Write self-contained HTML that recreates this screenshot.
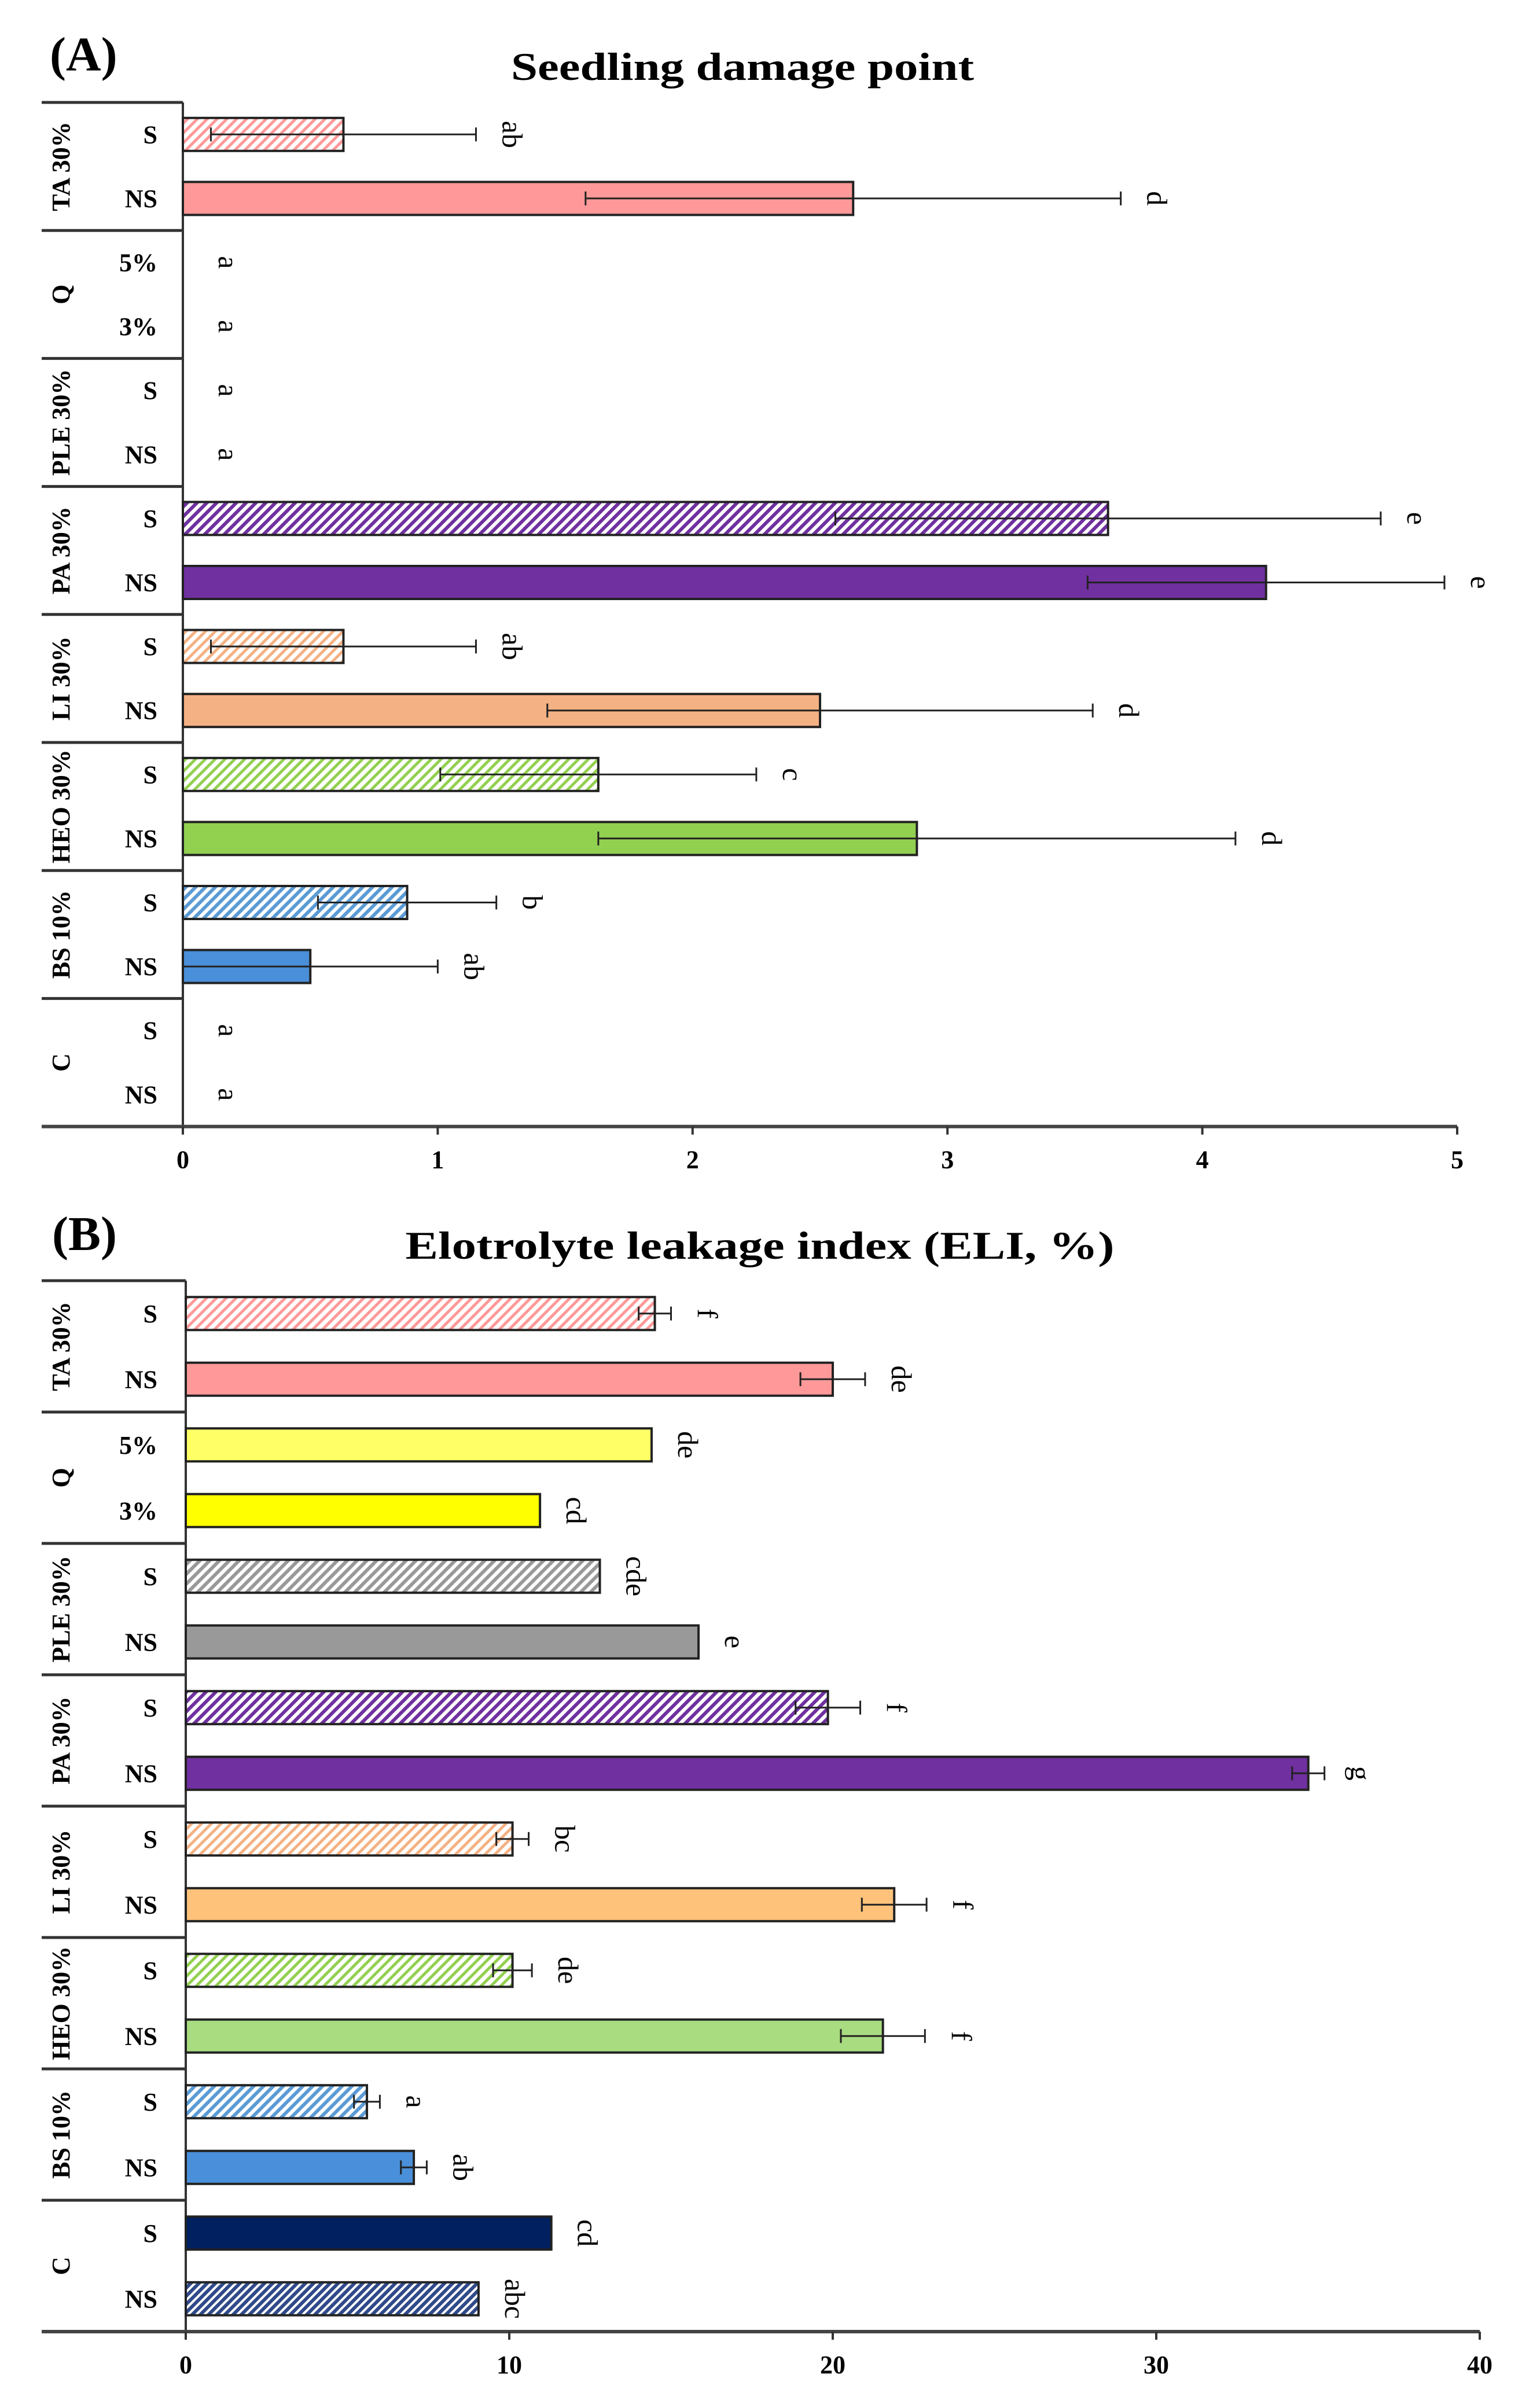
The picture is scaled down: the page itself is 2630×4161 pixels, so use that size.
<!DOCTYPE html>
<html><head><meta charset="utf-8">
<style>
html,body{margin:0;padding:0;background:#fff;}
svg{display:block;font-family:"Liberation Serif",serif;}
</style></head>
<body>
<svg id="chart" width="2630" height="4161" viewBox="0 0 2630 4161" xmlns="http://www.w3.org/2000/svg">
<defs>
<pattern id="hatch-pink" patternUnits="userSpaceOnUse" width="12" height="12" patternTransform="rotate(45)"><rect width="12" height="12" fill="#fff"/><rect width="5" height="12" fill="#f99"/></pattern>
<pattern id="hatch-gray" patternUnits="userSpaceOnUse" width="12" height="12" patternTransform="rotate(45)"><rect width="12" height="12" fill="#fff"/><rect width="6" height="12" fill="#999"/></pattern>
<pattern id="hatch-purple" patternUnits="userSpaceOnUse" width="12" height="12" patternTransform="rotate(45)"><rect width="12" height="12" fill="#fff"/><rect width="6" height="12" fill="#7030a0"/></pattern>
<pattern id="hatch-orange" patternUnits="userSpaceOnUse" width="12" height="12" patternTransform="rotate(45)"><rect width="12" height="12" fill="#fff"/><rect width="5" height="12" fill="#f4b183"/></pattern>
<pattern id="hatch-green" patternUnits="userSpaceOnUse" width="12" height="12" patternTransform="rotate(45)"><rect width="12" height="12" fill="#fff"/><rect width="5" height="12" fill="#92d050"/></pattern>
<pattern id="hatch-blue" patternUnits="userSpaceOnUse" width="12" height="12" patternTransform="rotate(45)"><rect width="12" height="12" fill="#fff"/><rect width="6" height="12" fill="#5b9bd5"/></pattern>
<pattern id="hatch-navy" patternUnits="userSpaceOnUse" width="10" height="10" patternTransform="rotate(45)"><rect width="10" height="10" fill="#fff"/><rect width="6" height="10" fill="#2f4a8a"/></pattern>
</defs>
</svg>
<script>
// shared categories (top to bottom)
const groups = ["TA 30%", "Q", "PLE 30%", "PA 30%", "LI 30%", "HEO 30%", "BS 10%", "C"];
const subLabels = ["S","NS","5%","3%","S","NS","S","NS","S","NS","S","NS","S","NS","S","NS"];
// Panel A: seedling damage point
const valuesA = [0.63, 2.63, 0, 0, 0, 0, 3.63, 4.25, 0.63, 2.5, 1.63, 2.88, 0.88, 0.5, 0, 0];
const errorsA = [0.52, 1.05, 0, 0, 0, 0, 1.07, 0.7, 0.52, 1.07, 0.62, 1.25, 0.35, 0.5, 0, 0];
const lettersA = ["ab","d","a","a","a","a","e","e","ab","d","c","d","b","ab","a","a"];
const ticksA = [0,1,2,3,4,5];
// Panel B: electrolyte leakage index
const valuesB = [14.5, 20.0, 14.4, 10.95, 12.8, 15.85, 19.85, 34.7, 10.1, 21.9, 10.1, 21.55, 5.6, 7.05, 11.3, 9.05];
const errorsB = [0.5, 1.0, 0, 0, 0, 0, 1.0, 0.5, 0.5, 1.0, 0.6, 1.3, 0.4, 0.4, 0, 0];
const lettersB = ["f","de","de","cd","cde","e","f","g","bc","f","de","f","a","ab","cd","abc"];
const ticksB = [0,10,20,30,40];

const fillsA = ["url(#hatch-pink)","#f99","#fff","#fff","#fff","#fff","url(#hatch-purple)","#7030a0","url(#hatch-orange)","#f4b183","url(#hatch-green)","#92d050","url(#hatch-blue)","#4a8fd9","#fff","#fff"];
const fillsB = ["url(#hatch-pink)","#f99","#ffff66","#ffff00","url(#hatch-gray)","#999","url(#hatch-purple)","#7030a0","url(#hatch-orange)","#ffc27a","url(#hatch-green)","#a9dc80","url(#hatch-blue)","#4a8fd9","#002060","url(#hatch-navy)"];

const svg = document.getElementById('chart');
const NS = "http://www.w3.org/2000/svg";
function mk(tag, attrs, parent){const e=document.createElementNS(NS,tag);for(const k in attrs)e.setAttribute(k,attrs[k]);(parent||svg).appendChild(e);return e;}

function panel(cfg){
  const g = mk('g',{});
  
  
  const {x0,x1,top,pitch,max} = cfg;
  const bottom = top + pitch*16;
  const sx = v => x0 + (v/max)*(x1-x0);
  const rowY = i => top + pitch*(i+0.5);
  const lab = mk('text',{x:cfg.labX,y:cfg.labY,'font-size':84,'font-weight':'bold'},g); lab.textContent=cfg.label;
  
  
  const tt = mk('text',{x:cfg.titleX,y:cfg.titleY,'font-size':68,'font-weight':'bold','text-anchor':'middle',textLength:cfg.titleW,lengthAdjust:'spacingAndGlyphs'},g); tt.textContent=cfg.title;
  
  
  for(let k=0;k<8;k++){
    const y = top + k*2*pitch;
    const l = mk('line',{x1:72,x2:x0,y1:y,y2:y,stroke:'#333','stroke-width':5},g);
    
    
  }
  groups.forEach((name,k)=>{
    const cy = top + (k*2+1)*pitch;
    const t = mk('text',{x:0,y:0,'font-size':44,'font-weight':'bold','text-anchor':'middle',transform:`translate(120,${cy}) rotate(-90)`},g);
    t.textContent=name;
    
    
  });
  const ya = mk('line',{x1:x0,x2:x0,y1:top,y2:bottom+12,stroke:'#333','stroke-width':4},g);
  
  
  const xa = mk('line',{x1:72,x2:x1,y1:bottom,y2:bottom,stroke:'#444','stroke-width':6},g);
  
  
  cfg.ticks.forEach(t=>{
    const x=sx(t);
    const tk = mk('line',{x1:x,x2:x,y1:bottom,y2:bottom+14,stroke:'#333','stroke-width':4},g);
    
    
    const tl = mk('text',{x:x,y:bottom+72,'font-size':44,'font-weight':'bold','text-anchor':'middle'},g);
    tl.textContent=t;
    
    
  });
  const bh = 57;
  cfg.values.forEach((v,i)=>{
    const cy = rowY(i);
    const sl = mk('text',{x:272,y:cy+15,'font-size':44,'font-weight':'bold','text-anchor':'end'},g);
    sl.textContent=subLabels[i];
    
    
    let endX = x0;
    if(v>0){
      const r = mk('rect',{x:x0,y:cy-bh/2,width:sx(v)-x0,height:bh,fill:cfg.fills[i],stroke:'#222','stroke-width':4},g);
      
      
      endX = sx(v);
      const e = cfg.errors[i];
      if(e>0){
        const a=sx(Math.max(0,v-e)), b=sx(v+e);
        const el = mk('path',{d:`M${a},${cy}H${b}M${a},${cy-12}V${cy+12}M${b},${cy-12}V${cy+12}`,stroke:'#222','stroke-width':3,fill:'none'},g);
        
        
        endX = b;
      }
    }
    const lx = endX + (v>0?46:62);
    const lt = mk('text',{x:0,y:0,'font-size':50,'text-anchor':'middle',transform:`translate(${lx},${cy}) rotate(90)`},g);
    lt.textContent=cfg.letters[i];
    
    
  });
}
panel({name:'panel-a-seedling-damage',x0:316,x1:2518,top:177,pitch:110.6,max:5,ticks:ticksA,values:valuesA,errors:errorsA,letters:lettersA,fills:fillsA,
  label:'(A)',labX:86,labY:122,title:'Seedling damage point',titleX:1283,titleY:138,titleW:800});
panel({name:'panel-b-electrolyte-leakage',x0:321,x1:2557,top:2213,pitch:113.5,max:40,ticks:ticksB,values:valuesB,errors:errorsB,letters:lettersB,fills:fillsB,
  label:'(B)',labX:90,labY:2160,title:'Elotrolyte leakage index (ELI, %)',titleX:1313,titleY:2175,titleW:1225});
</script>
</body></html>
